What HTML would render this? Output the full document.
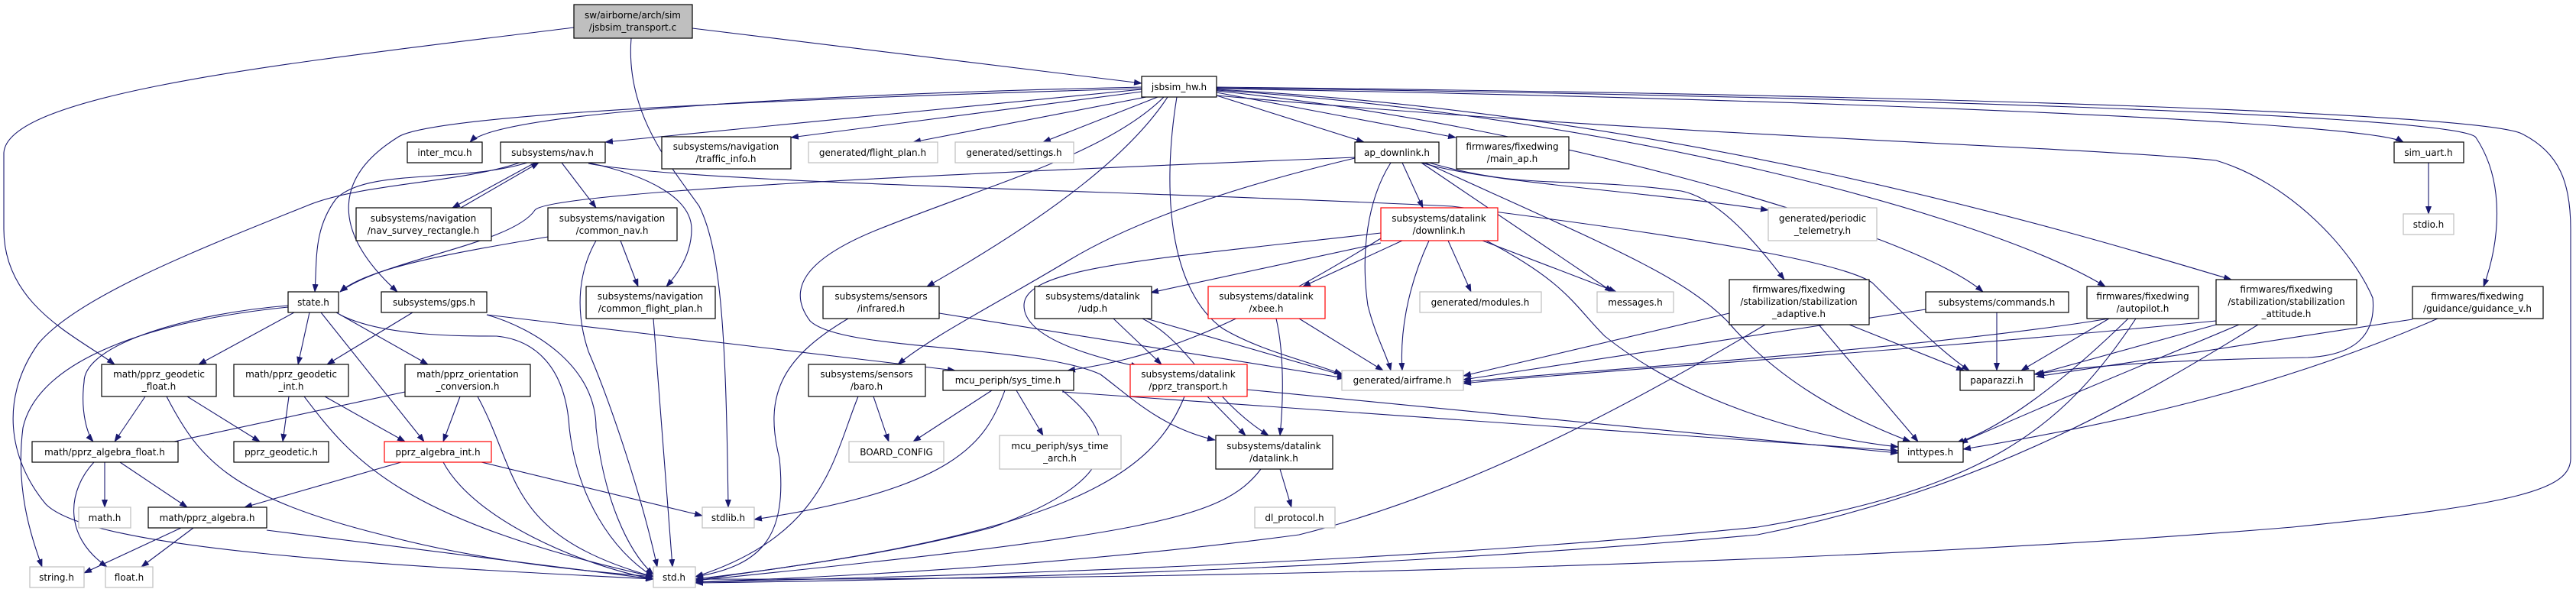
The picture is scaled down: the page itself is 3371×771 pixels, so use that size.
<!DOCTYPE html>
<html><head><meta charset="utf-8"><style>
html,body{margin:0;padding:0;background:#fff;}
svg{display:block;}
text{font-family:"DejaVu Sans","Liberation Sans",sans-serif;font-size:12px;fill:#000;text-anchor:middle;}
.e{fill:none;stroke:#191970;stroke-width:1.1;marker-end:url(#a);}
.b{fill:#fff;stroke:#000;stroke-width:1.2;}
.g{fill:#fff;stroke:#bfbfbf;stroke-width:1.2;}
.r{fill:#fff;stroke:#ff0000;stroke-width:1.2;}
</style></head><body>
<svg width="3371" height="771" viewBox="0 0 3371 771" xmlns="http://www.w3.org/2000/svg">
<defs><marker id="a" markerWidth="11" markerHeight="8" refX="10" refY="4" orient="auto" markerUnits="userSpaceOnUse"><path d="M0,0 L11,4 L0,8 z" fill="#191970"/></marker></defs>
<g>
<path class="e" d="M906,37 L1494,109"/>
<path class="e" d="M751,36 C400,80 10,120 5,200 L5,300 C5,400 100,440 150,477"/>
<path class="e" d="M826,50 C818,150 880,220 915,270 C945,330 950,450 953,664"/>
<path class="e" d="M1494,114 C1000,125 650,150 615,186"/>
<path class="e" d="M1494,117 L792,186"/>
<path class="e" d="M1494,120 L1035,180"/>
<path class="e" d="M1500,127 L1195,186"/>
<path class="e" d="M1515,127 L1365,186"/>
<path class="e" d="M1494,116 C1000,130 560,150 520,180 C440,230 430,300 520,382"/>
<path class="e" d="M1528,127 C1480,200 1380,280 1213,375"/>
<path class="e" d="M1523,127 C1450,200 1300,240 1150,300 C1050,340 1030,380 1060,420 C1100,460 1350,450 1440,490 C1480,520 1520,560 1590,576"/>
<path class="e" d="M1540,127 C1520,250 1530,380 1600,430 C1650,460 1720,475 1756,490"/>
<path class="e" d="M1592,125 L1785,186"/>
<path class="e" d="M1592,121 L1905,180"/>
<path class="e" d="M1592,119 C2000,160 2500,300 2595,382"/>
<path class="e" d="M1592,118 C2100,150 2600,280 2755,375"/>
<path class="e" d="M1592,117 C2200,150 2700,300 2920,366"/>
<path class="e" d="M1592,116 C2400,130 3100,160 3145,186"/>
<path class="e" d="M1592,115 C2400,125 3220,150 3240,180 C3280,240 3270,320 3250,375"/>
<path class="e" d="M1592,114 C2600,125 3250,150 3300,175 C3350,200 3364,240 3364,300 L3364,600 C3364,640 3300,660 3000,690 C2400,740 1500,760 910,758"/>
<path class="e" d="M1592,125 C2200,180 2700,190 2900,210 C3000,240 3080,330 3105,390 C3110,440 3080,465 3020,468 C2900,470 2750,475 2662,490"/>
<path class="e" d="M700,213 L592,272"/>
<path class="e" d="M603,272 L705,213"/>
<path class="e" d="M735,213 L780,272"/>
<path class="e" d="M690,213 C600,240 480,220 440,260 C410,300 415,340 412,382"/>
<path class="e" d="M680,213 C600,240 470,240 400,270 C250,330 100,390 50,450 C0,520 10,600 60,660 C120,720 500,740 855,758"/>
<path class="e" d="M770,213 C850,230 905,260 905,300 C905,330 890,355 872,375"/>
<path class="e" d="M770,214 C900,240 1500,250 1900,270 C2300,320 2420,350 2450,370 C2500,420 2540,460 2577,485"/>
<path class="e" d="M717,310 C600,330 480,350 445,382"/>
<path class="e" d="M780,315 C760,350 750,400 770,460 C800,530 840,650 860,742"/>
<path class="e" d="M812,315 L835,375"/>
<path class="e" d="M855,417 L880,742"/>
<path class="e" d="M385,409 L260,477"/>
<path class="e" d="M405,409 L390,477"/>
<path class="e" d="M440,409 L560,477"/>
<path class="e" d="M420,409 L555,578"/>
<path class="e" d="M377,400 C250,410 110,450 110,500 C105,540 115,570 122,578"/>
<path class="e" d="M377,402 C200,420 50,470 30,560 C20,640 40,700 55,742"/>
<path class="e" d="M445,412 C500,440 600,440 650,440 C700,445 740,480 745,560 C755,650 800,720 855,755"/>
<path class="e" d="M540,409 L428,477"/>
<path class="e" d="M637,412 C700,430 780,480 780,560 C790,650 820,720 855,752"/>
<path class="e" d="M637,412 L1250,485"/>
<path class="e" d="M190,519 L150,578"/>
<path class="e" d="M245,519 L340,578"/>
<path class="e" d="M218,519 C260,600 300,650 500,700 C650,740 800,750 855,755"/>
<path class="e" d="M378,519 L370,578"/>
<path class="e" d="M425,519 L530,578"/>
<path class="e" d="M398,519 C460,600 520,680 855,755"/>
<path class="e" d="M530,513 L205,583"/>
<path class="e" d="M602,519 L580,578"/>
<path class="e" d="M625,519 C680,620 660,700 855,755"/>
<path class="e" d="M137,605 L137,664"/>
<path class="e" d="M157,605 L245,664"/>
<path class="e" d="M123,605 C90,640 80,700 140,742"/>
<path class="e" d="M525,605 L320,664"/>
<path class="e" d="M580,605 C620,680 760,740 855,758"/>
<path class="e" d="M630,605 L919,675"/>
<path class="e" d="M237,691 L110,750"/>
<path class="e" d="M253,691 L185,742"/>
<path class="e" d="M349,694 L855,758"/>
<path class="e" d="M1110,417 C1020,470 1000,520 1020,600 C1030,700 1000,740 910,755"/>
<path class="e" d="M1229,410 L1760,495"/>
<path class="e" d="M1143,519 L1163,578"/>
<path class="e" d="M1123,519 C1090,600 1080,700 910,755"/>
<path class="e" d="M1298,511 L1195,578"/>
<path class="e" d="M1330,511 L1365,570"/>
<path class="e" d="M1315,511 C1290,580 1250,640 987,680"/>
<path class="e" d="M1390,511 C1450,560 1490,620 1300,690 C1150,730 1000,745 910,760"/>
<path class="e" d="M1390,513 L2484,590"/>
<path class="e" d="M1457,417 L1520,477"/>
<path class="e" d="M1495,417 C1560,450 1580,520 1660,570"/>
<path class="e" d="M1500,417 L1760,492"/>
<path class="e" d="M1670,417 C1680,460 1680,520 1675,570"/>
<path class="e" d="M1700,417 L1810,485"/>
<path class="e" d="M1580,519 L1630,570"/>
<path class="e" d="M1550,519 C1510,620 1400,700 910,758"/>
<path class="e" d="M1632,510 L2484,593"/>
<path class="e" d="M1807,312 C1600,440 1500,470 1397,485"/>
<path class="e" d="M1675,614 L1690,664"/>
<path class="e" d="M1650,614 C1600,680 1500,700 910,760"/>
<path class="e" d="M1835,315 L1705,375"/>
<path class="e" d="M1807,318 L1506,383"/>
<path class="e" d="M1807,305 C1500,340 1340,350 1340,400 C1340,440 1420,465 1490,480"/>
<path class="e" d="M1895,315 L1925,382"/>
<path class="e" d="M1940,315 L2115,382"/>
<path class="e" d="M1870,315 C1840,380 1832,440 1835,485"/>
<path class="e" d="M1945,315 C2050,370 2060,400 2100,440 C2200,520 2350,570 2484,585"/>
<path class="e" d="M1773,206 C1300,225 720,250 700,275 C670,320 500,340 445,382"/>
<path class="e" d="M1835,213 L1862,272"/>
<path class="e" d="M1820,213 C1790,260 1780,330 1790,400 C1800,440 1815,465 1820,485"/>
<path class="e" d="M1860,213 L2110,382"/>
<path class="e" d="M1860,213 C1950,240 2150,250 2314,275"/>
<path class="e" d="M1870,213 C2000,250 2050,230 2200,250 C2250,260 2300,320 2335,366"/>
<path class="e" d="M1865,213 C2100,320 2200,360 2260,420 C2320,490 2400,540 2500,578"/>
<path class="e" d="M1773,207 C1550,260 1450,310 1400,340 C1300,400 1220,440 1175,477"/>
<path class="e" d="M2263,410 L1915,492"/>
<path class="e" d="M2420,425 L2570,485"/>
<path class="e" d="M2380,425 L2510,578"/>
<path class="e" d="M2310,425 C2100,550 1900,650 1700,700 C1400,740 1100,755 910,762"/>
<path class="e" d="M2613,409 L2613,485"/>
<path class="e" d="M2520,405 L1915,497"/>
<path class="e" d="M2760,417 C2500,460 2000,490 1915,500"/>
<path class="e" d="M2760,417 L2645,485"/>
<path class="e" d="M2785,417 C2700,500 2620,560 2560,580"/>
<path class="e" d="M2795,417 C2700,560 2600,640 2300,690 C1800,740 1200,755 910,762"/>
<path class="e" d="M2900,420 C2500,460 2000,492 1915,502"/>
<path class="e" d="M2900,425 L2665,490"/>
<path class="e" d="M2930,425 C2800,480 2700,520 2565,580"/>
<path class="e" d="M2955,425 C2800,520 2600,640 2300,700 C1800,745 1300,758 910,763"/>
<path class="e" d="M3157,418 L2665,493"/>
<path class="e" d="M3190,417 C3000,500 2800,550 2569,588"/>
<path class="e" d="M3178,213 L3178,280"/>
</g>
<g>
<rect x="751" y="6" width="155" height="44" fill="#bfbfbf" stroke="#000" stroke-width="1.2"/>
<text x="828" y="24">sw/airborne/arch/sim</text><text x="828" y="40">/jsbsim_transport.c</text>
<rect class="b" x="1494" y="100" width="98" height="27"/><text x="1543" y="118">jsbsim_hw.h</text>
<rect class="b" x="533" y="186" width="98" height="27"/><text x="582" y="204">inter_mcu.h</text>
<rect class="b" x="655" y="186" width="137" height="27"/><text x="723" y="204">subsystems/nav.h</text>
<rect class="b" x="866" y="179" width="169" height="42"/><text x="950" y="196">subsystems/navigation</text><text x="950" y="212">/traffic_info.h</text>
<rect class="g" x="1058" y="186" width="169" height="27"/><text x="1142" y="204">generated/flight_plan.h</text>
<rect class="g" x="1250" y="186" width="155" height="27"/><text x="1327" y="204">generated/settings.h</text>
<rect class="b" x="1773" y="186" width="110" height="27"/><text x="1828" y="204">ap_downlink.h</text>
<rect class="b" x="1906" y="179" width="147" height="42"/><text x="1979" y="196">firmwares/fixedwing</text><text x="1979" y="212">/main_ap.h</text>
<rect class="b" x="3133" y="186" width="91" height="27"/><text x="3178" y="204">sim_uart.h</text>
<rect class="b" x="466" y="272" width="177" height="43"/><text x="554" y="290">subsystems/navigation</text><text x="554" y="306">/nav_survey_rectangle.h</text>
<rect class="b" x="717" y="272" width="169" height="43"/><text x="801" y="290">subsystems/navigation</text><text x="801" y="306">/common_nav.h</text>
<rect class="r" x="1807" y="272" width="153" height="43"/><text x="1883" y="290">subsystems/datalink</text><text x="1883" y="306">/downlink.h</text>
<rect class="g" x="2314" y="272" width="142" height="43"/><text x="2385" y="290">generated/periodic</text><text x="2385" y="306">_telemetry.h</text>
<rect class="g" x="3145" y="280" width="66" height="27"/><text x="3178" y="298">stdio.h</text>
<rect class="b" x="377" y="382" width="66" height="27"/><text x="410" y="400">state.h</text>
<rect class="b" x="499" y="382" width="138" height="27"/><text x="568" y="400">subsystems/gps.h</text>
<rect class="b" x="767" y="375" width="169" height="42"/><text x="851" y="392">subsystems/navigation</text><text x="851" y="408">/common_flight_plan.h</text>
<rect class="b" x="1077" y="375" width="152" height="42"/><text x="1153" y="392">subsystems/sensors</text><text x="1153" y="408">/infrared.h</text>
<rect class="b" x="1354" y="375" width="153" height="42"/><text x="1430" y="392">subsystems/datalink</text><text x="1430" y="408">/udp.h</text>
<rect class="r" x="1581" y="375" width="153" height="42"/><text x="1657" y="392">subsystems/datalink</text><text x="1657" y="408">/xbee.h</text>
<rect class="g" x="1858" y="382" width="159" height="27"/><text x="1937" y="400">generated/modules.h</text>
<rect class="g" x="2090" y="382" width="100" height="27"/><text x="2140" y="400">messages.h</text>
<rect class="b" x="2263" y="366" width="183" height="59"/><text x="2354" y="383">firmwares/fixedwing</text><text x="2354" y="399">/stabilization/stabilization</text><text x="2354" y="415">_adaptive.h</text>
<rect class="b" x="2520" y="382" width="187" height="27"/><text x="2613" y="400">subsystems/commands.h</text>
<rect class="b" x="2731" y="375" width="146" height="42"/><text x="2804" y="392">firmwares/fixedwing</text><text x="2804" y="408">/autopilot.h</text>
<rect class="b" x="2900" y="366" width="184" height="59"/><text x="2992" y="383">firmwares/fixedwing</text><text x="2992" y="399">/stabilization/stabilization</text><text x="2992" y="415">_attitude.h</text>
<rect class="b" x="3157" y="375" width="171" height="42"/><text x="3242" y="392">firmwares/fixedwing</text><text x="3242" y="408">/guidance/guidance_v.h</text>
<rect class="b" x="133" y="477" width="150" height="42"/><text x="208" y="494">math/pprz_geodetic</text><text x="208" y="510">_float.h</text>
<rect class="b" x="306" y="477" width="150" height="42"/><text x="381" y="494">math/pprz_geodetic</text><text x="381" y="510">_int.h</text>
<rect class="b" x="530" y="477" width="164" height="42"/><text x="612" y="494">math/pprz_orientation</text><text x="612" y="510">_conversion.h</text>
<rect class="b" x="1058" y="477" width="153" height="42"/><text x="1134" y="494">subsystems/sensors</text><text x="1134" y="510">/baro.h</text>
<rect class="b" x="1234" y="485" width="171" height="26"/><text x="1319" y="502">mcu_periph/sys_time.h</text>
<rect class="r" x="1479" y="477" width="153" height="42"/><text x="1555" y="494">subsystems/datalink</text><text x="1555" y="510">/pprz_transport.h</text>
<rect class="g" x="1756" y="485" width="159" height="26"/><text x="1835" y="502">generated/airframe.h</text>
<rect class="b" x="2565" y="485" width="97" height="26"/><text x="2613" y="502">paparazzi.h</text>
<rect class="b" x="42" y="578" width="191" height="27"/><text x="137" y="596">math/pprz_algebra_float.h</text>
<rect class="b" x="306" y="578" width="124" height="27"/><text x="368" y="596">pprz_geodetic.h</text>
<rect class="r" x="503" y="578" width="140" height="27"/><text x="573" y="596">pprz_algebra_int.h</text>
<rect class="g" x="1111" y="578" width="124" height="27"/><text x="1173" y="596">BOARD_CONFIG</text>
<rect class="g" x="1308" y="570" width="159" height="44"/><text x="1387" y="588">mcu_periph/sys_time</text><text x="1387" y="604">_arch.h</text>
<rect class="b" x="1591" y="570" width="153" height="44"/><text x="1667" y="588">subsystems/datalink</text><text x="1667" y="604">/datalink.h</text>
<rect class="b" x="2484" y="578" width="85" height="27"/><text x="2526" y="596">inttypes.h</text>
<rect class="g" x="103" y="664" width="68" height="27"/><text x="137" y="682">math.h</text>
<rect class="b" x="194" y="664" width="155" height="27"/><text x="271" y="682">math/pprz_algebra.h</text>
<rect class="g" x="919" y="664" width="68" height="27"/><text x="953" y="682">stdlib.h</text>
<rect class="g" x="1642" y="664" width="105" height="27"/><text x="1694" y="682">dl_protocol.h</text>
<rect class="g" x="39" y="742" width="71" height="27"/><text x="74" y="760">string.h</text>
<rect class="g" x="138" y="742" width="62" height="27"/><text x="169" y="760">float.h</text>
<rect class="g" x="855" y="742" width="55" height="27"/><text x="882" y="760">std.h</text>
</g>
</svg>
</body></html>
